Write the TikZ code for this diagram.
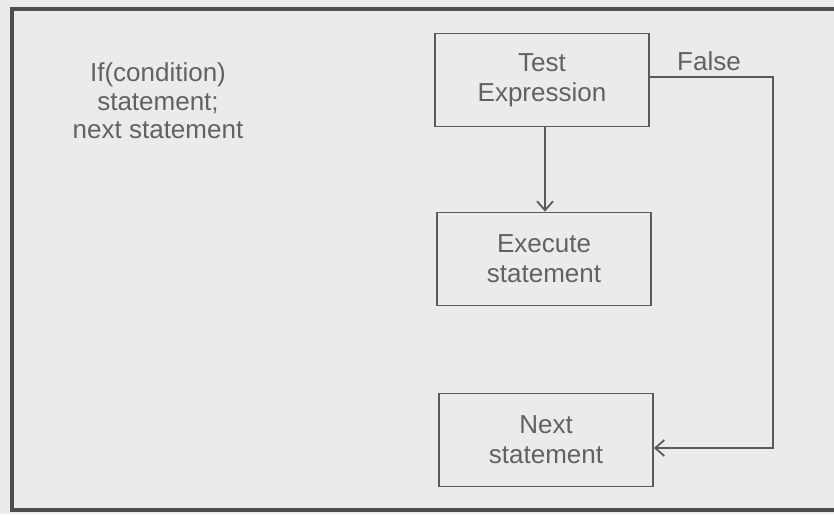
\documentclass[tikz,border=0pt]{standalone}
\usepackage{fontspec}
\setmainfont{Liberation Sans}
\usetikzlibrary{arrows.meta}
\definecolor{bg}{HTML}{EBEBED}
\definecolor{ln}{HTML}{5A5A5A}
\definecolor{fr}{HTML}{4E4E4E}
\definecolor{tx}{HTML}{626262}
\begin{document}
\begin{tikzpicture}[x=1pt,y=-1pt,
  stepbox/.style={draw=ln,line width=1.8pt,minimum width=214pt,minimum height=93pt,
    align=center,text=tx,font=\fontsize{26}{30}\selectfont,inner sep=0pt},
  conn/.style={draw=ln,line width=1.8pt},
  tip/.style={-{Straight Barb[length=9pt,width=16pt,line width=1.8pt]}}]
\useasboundingbox (0,0) rectangle (834,514);
\fill[bg] (0,0) rectangle (834,514);
\draw[fr,line width=4pt] (12,9) rectangle (845,510);
\node[align=center,text=tx,font=\fontsize{26}{28.5}\selectfont] (code) at (158,101) {If(condition)\\statement;\\next statement};
\node[stepbox] (test) at (542,80) {Test\\Expression};
\node[stepbox] (exec) at (544,259) {Execute\\statement};
\node[stepbox] (next) at (546,440) {Next\\statement};
\coordinate (c1) at (773,77);
\coordinate (c2) at (773,448);
\draw[conn,tip] (test.south -| 545,0) -- (exec.north -| 545,0);
\draw[conn,tip] (test.east |- c1) -- (c1) -- (c2) -- (next.east |- c2);
\node[text=tx,font=\fontsize{26}{30}\selectfont,anchor=base] (false) at (709,70) {False};
\end{tikzpicture}
\end{document}
